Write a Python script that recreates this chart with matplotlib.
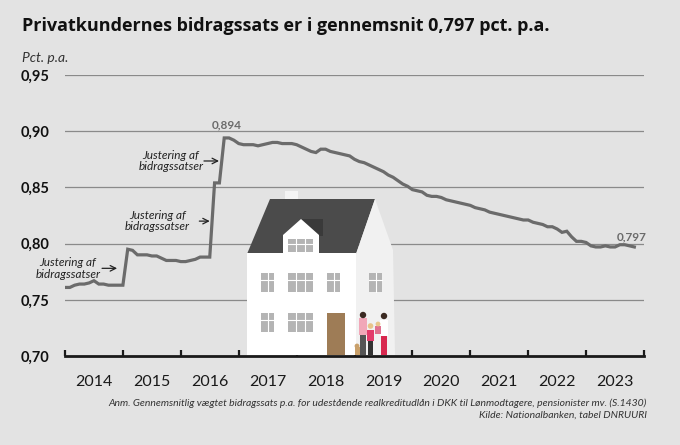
import matplotlib
matplotlib.use("Agg")
import matplotlib.pyplot as plt
import numpy as np
from matplotlib.patches import Rectangle, Polygon, Circle

# monthly values, Jan 2014 - Nov 2023
vals_2014 = [0.761, 0.761, 0.763, 0.764, 0.764, 0.765, 0.767, 0.764, 0.764, 0.763, 0.763, 0.763]
vals_2015 = [0.763, 0.795, 0.794, 0.790, 0.790, 0.790, 0.789, 0.789, 0.787, 0.785, 0.785, 0.785]
vals_2016 = [0.784, 0.784, 0.785, 0.786, 0.788, 0.788, 0.788, 0.854, 0.854, 0.894, 0.894, 0.892]
vals_2017 = [0.889, 0.888, 0.888, 0.888, 0.887, 0.888, 0.889, 0.890, 0.890, 0.889, 0.889, 0.889]
vals_2018 = [0.888, 0.886, 0.884, 0.882, 0.881, 0.884, 0.884, 0.882, 0.881, 0.880, 0.879, 0.878]
vals_2019 = [0.875, 0.873, 0.872, 0.870, 0.868, 0.866, 0.864, 0.861, 0.859, 0.856, 0.853, 0.851]
vals_2020 = [0.848, 0.847, 0.846, 0.843, 0.842, 0.842, 0.841, 0.839, 0.838, 0.837, 0.836, 0.835]
vals_2021 = [0.834, 0.832, 0.831, 0.830, 0.828, 0.827, 0.826, 0.825, 0.824, 0.823, 0.822, 0.821]
vals_2022 = [0.821, 0.819, 0.818, 0.817, 0.815, 0.815, 0.813, 0.810, 0.811, 0.806, 0.802, 0.802]
vals_2023 = [0.801, 0.798, 0.797, 0.797, 0.798, 0.797, 0.797, 0.799, 0.799, 0.798, 0.797]

values = (vals_2014 + vals_2015 + vals_2016 + vals_2017 + vals_2018 +
          vals_2019 + vals_2020 + vals_2021 + vals_2022 + vals_2023)
t = 2014 + np.arange(len(values)) / 12.0

years = list(range(2014, 2024))
yticks = [0.70, 0.75, 0.80, 0.85, 0.90, 0.95]

# annotations: (text x, text y, arrow start x, arrow end x)
just_notes = [
    (2014.05, 0.778, 2014.64, 2014.90),
    (2015.60, 0.820, 2016.32, 2016.50),
    (2015.83, 0.8735, 2016.40, 2016.66),
]
peak_t, peak_v = 2016.8, 0.894
last_t, last_v = t[-1], values[-1]

BG = "#e3e3e3"
LINE = "#6b6b6b"
plt.rcParams['font.family'] = ['Lato', 'DejaVu Sans']

fig = plt.figure(figsize=(6.8, 4.45), dpi=100)
fig.patch.set_facecolor(BG)
ax = fig.add_axes([65 / 680, 1 - 356 / 445, 579 / 680, (356 - 75) / 445])
ax.set_facecolor(BG)

ax.plot(t, values, color=LINE, lw=2.3, zorder=3, solid_joinstyle='miter')

ax.set_xlim(2014, 2024)
ax.set_ylim(0.70, 0.95)
for y in yticks[1:]:
    ax.axhline(y, color="#8a8a8a", lw=0.9, zorder=1)

for s in ['top', 'right', 'left']:
    ax.spines[s].set_visible(False)
ax.spines['bottom'].set_linewidth(2)
ax.spines['bottom'].set_color('#1a1a1a')
ax.spines['bottom'].set_zorder(5)

ax.set_yticks(yticks)
ax.set_yticklabels([f"{y:.2f}".replace('.', ',') for y in yticks],
                   fontsize=10.5, fontweight='bold', color='#111111')
ax.tick_params(axis='y', length=0, pad=11)

ax.set_xticks(list(range(2014, 2025)))
ax.set_xticklabels([])
ax.set_xticks([y + 0.5 for y in years], minor=True)
ax.set_xticklabels([str(y) for y in years], minor=True, fontsize=11.5, color='#1a1a1a')
ax.tick_params(axis='x', which='major', direction='in', length=4, width=1.6, color='#1a1a1a')
ax.tick_params(axis='x', which='minor', length=0, pad=14)

for tx, ty, x0, x1 in just_notes:
    ax.text(tx, ty, "Justering af\nbidragssatser", fontsize=8.5, style='italic',
            color='#222222', ha='center', va='center', linespacing=1.05, zorder=4)
    ax.annotate("", xy=(x1, ty), xytext=(x0, ty),
                arrowprops=dict(arrowstyle='->', color='#222222', lw=0.9,
                                shrinkA=0, shrinkB=0), zorder=4)

ax.text(peak_t, peak_v + 0.007, "0,894", fontsize=8.5, fontweight='bold',
        color='#6b6b6b', ha='center', va='bottom')
ax.text(last_t - 0.05, last_v + 0.004, "0,797", fontsize=8.5, fontweight='bold',
        color='#6b6b6b', ha='center', va='bottom')

fig.text(22 / 680, 1 - 26 / 445, "Privatkundernes bidragssats er i gennemsnit 0,797 pct. p.a.",
         fontsize=13, fontweight='bold', color='#111111', ha='left', va='center',
         family=['Open Sans', 'DejaVu Sans'])
fig.text(22 / 680, 1 - 58 / 445, "Pct. p.a.", fontsize=10, style='italic',
         color='#333333', ha='left', va='center')
fig.text(647 / 680, 1 - 403 / 445,
         "Anm. Gennemsnitlig vægtet bidragssats p.a. for udestående realkreditudlån i DKK til Lønmodtagere, pensionister mv. (S.1430)",
         fontsize=7.5, style='italic', color='#333333', ha='right', va='center')
fig.text(647 / 680, 1 - 415 / 445, "Kilde: Nationalbanken, tabel DNRUURI",
         fontsize=7.5, style='italic', color='#333333', ha='right', va='center')

# house illustration in pixel coordinates
hx = fig.add_axes([0, 0, 1, 1], zorder=2)
hx.set_xlim(0, 680)
hx.set_ylim(445, 0)
hx.axis('off')
hx.patch.set_alpha(0)

hx.add_patch(Rectangle((285, 191), 13, 14, color='#f4f4f4', lw=0))
hx.add_patch(Polygon([(247, 254), (270, 199), (375, 199), (356, 254)], closed=True,
                     color='#4b4b4b', lw=0))
hx.add_patch(Polygon([(356, 355), (356, 254), (375, 199), (393, 250), (395, 355)],
                     closed=True, color='#f1f1f1', lw=0))
hx.add_patch(Rectangle((247, 253), 109, 102, color='#ffffff', lw=0))
# dormer
hx.add_patch(Polygon([(301, 219), (323, 219), (323, 236), (316, 236)], closed=True,
                     color='#3a3a3a', lw=0))
hx.add_patch(Polygon([(283, 254), (283, 235), (301, 219), (319, 235), (319, 254)],
                     closed=True, color='#ffffff', lw=0))


def window(x, y, w, h, cols):
    hx.add_patch(Rectangle((x, y), w, h, color='#b4b4b4', lw=0))
    for i in range(1, cols):
        xx = x + w * i / cols
        hx.plot([xx, xx], [y, y + h], color='white', lw=0.8)
    hx.plot([x, x + w], [y + h / 2.6, y + h / 2.6], color='white', lw=0.8)


window(288, 239, 25, 13, 3)
for wx, ww, c in [(261, 13, 2), (288, 25, 3), (327, 13, 2), (369, 13, 2)]:
    window(wx, 273, ww, 19, c)
for wx, ww, c in [(261, 13, 2), (288, 25, 3)]:
    window(wx, 313, ww, 19, c)
hx.add_patch(Rectangle((327, 313), 18, 42, color='#9e7c56', lw=0))

# family
hx.add_patch(Rectangle((355, 347), 6, 8, color='#c9a06a', lw=0))
hx.add_patch(Circle((357, 346), 2.4, color='#c9a06a', lw=0))
hx.add_patch(Rectangle((360, 334), 6, 21, color='#555555', lw=0))
hx.add_patch(Rectangle((359, 318), 8, 17, color='#f1a7b8', lw=0))
hx.add_patch(Circle((363, 315), 3.2, color='#3b2a22', lw=0))
hx.add_patch(Rectangle((368, 340), 5, 15, color='#333333', lw=0))
hx.add_patch(Rectangle((367, 330), 7, 11, color='#e23b6b', lw=0))
hx.add_patch(Circle((370.5, 326), 2.8, color='#e8c48a', lw=0))
hx.add_patch(Rectangle((381, 335), 6, 20, color='#d8284f', lw=0))
hx.add_patch(Rectangle((380, 320), 8, 16, color='#ffffff', lw=0))
hx.add_patch(Circle((384, 316), 3.2, color='#3b2a22', lw=0))
hx.add_patch(Rectangle((375, 326), 6, 8, color='#e0708e', lw=0))
hx.add_patch(Circle((378, 324), 2.4, color='#e8c48a', lw=0))

fig.savefig("out.png", dpi=100, facecolor=BG)
